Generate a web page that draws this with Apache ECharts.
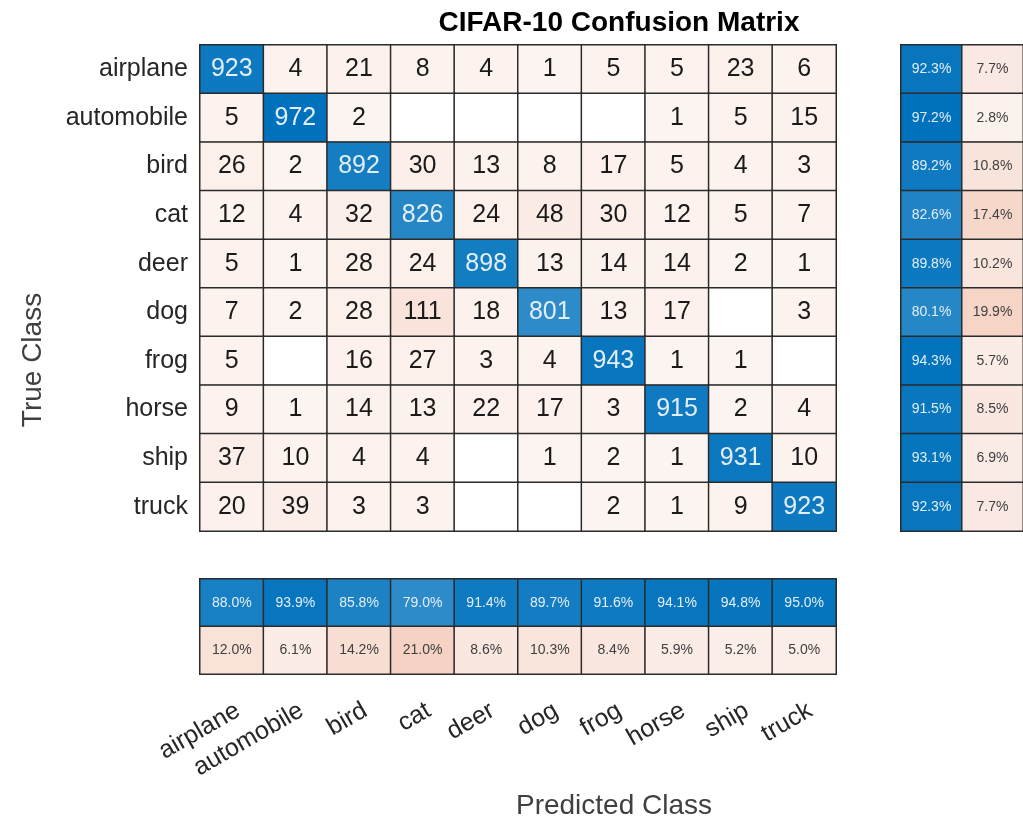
<!DOCTYPE html>
<html>
<head>
<meta charset="utf-8">
<script src="https://cdn.jsdelivr.net/npm/echarts@6/dist/echarts.min.js"></script>
<style>
  html, body { margin: 0; padding: 0; background: #fff; }
  #chart { width: 1023px; height: 820px; }
</style>
</head>
<body>
<div id="chart"></div>
<script>
var classes = ['airplane', 'automobile', 'bird', 'cat', 'deer', 'dog', 'frog', 'horse', 'ship', 'truck']

// rows = true class, columns = predicted class
var counts = [
  [923, 4, 21, 8, 4, 1, 5, 5, 23, 6],
  [5, 972, 2, 0, 0, 0, 0, 1, 5, 15],
  [26, 2, 892, 30, 13, 8, 17, 5, 4, 3],
  [12, 4, 32, 826, 24, 48, 30, 12, 5, 7],
  [5, 1, 28, 24, 898, 13, 14, 14, 2, 1],
  [7, 2, 28, 111, 18, 801, 13, 17, 0, 3],
  [5, 0, 16, 27, 3, 4, 943, 1, 1, 0],
  [9, 1, 14, 13, 22, 17, 3, 915, 2, 4],
  [37, 10, 4, 4, 0, 1, 2, 1, 931, 10],
  [20, 39, 3, 3, 0, 0, 2, 1, 9, 923]
]

// row summary (per true class)
var rowCorrect = [92.3, 97.2, 89.2, 82.6, 89.8, 80.1, 94.3, 91.5, 93.1, 92.3]
var rowWrong = [7.7, 2.8, 10.8, 17.4, 10.2, 19.9, 5.7, 8.5, 6.9, 7.7]

// column summary (per predicted class)
var colCorrect = [88.0, 93.9, 85.8, 79.0, 91.4, 89.7, 91.6, 94.1, 94.8, 95.0]
var colWrong = [12.0, 6.1, 14.2, 21.0, 8.6, 10.3, 8.4, 5.9, 5.2, 5.0]

var FONT = '"Liberation Sans", Arial, Helvetica, sans-serif'
var BLUE = [0, 114, 189]
var RED = [217, 83, 25]
var BORDER = '#2b2b2b'

function tint (base, a) {
  a = Math.max(0, Math.min(1, a))
  var c = base.map(function (v) { return Math.round(255 - (255 - v) * a) })
  return 'rgb(' + c.join(',') + ')'
}

var maxCount = Math.max.apply(null, counts.map(function (r) { return Math.max.apply(null, r) }))

var mainData = []
counts.forEach(function (row, i) {
  row.forEach(function (v, j) {
    var diag = i === j
    var color = '#ffffff'
    if (v > 0) color = diag ? tint(BLUE, v / maxCount) : tint(RED, 0.065 + 0.85 * v / maxCount)
    mainData.push({
      value: [j, i, v],
      itemStyle: { color: color },
      label: { color: diag ? '#e3eef8' : '#1a1a1a' }
    })
  })
})

var rowData = []
classes.forEach(function (c, i) {
  rowData.push({ value: [0, i, rowCorrect[i]], itemStyle: { color: tint(BLUE, rowCorrect[i] / 100 + 0.05) }, label: { color: '#e3eef8' } })
  rowData.push({ value: [1, i, rowWrong[i]], itemStyle: { color: tint(RED, 0.05 + rowWrong[i] / 100) }, label: { color: '#404040' } })
})

var colData = []
classes.forEach(function (c, j) {
  colData.push({ value: [j, 0, colCorrect[j]], itemStyle: { color: tint(BLUE, colCorrect[j] / 100 + 0.03) }, label: { color: '#e3eef8' } })
  colData.push({ value: [j, 1, colWrong[j]], itemStyle: { color: tint(RED, 0.05 + colWrong[j] / 100) }, label: { color: '#404040' } })
})

var hidden = {
  axisLine: { show: false },
  axisTick: { show: false },
  splitLine: { show: false }
}

var chart = echarts.init(document.getElementById('chart'))
chart.setOption({
  animation: false,
  textStyle: { fontFamily: FONT },
  title: {
    text: 'CIFAR-10 Confusion Matrix',
    left: 614,
    top: 4,
    textAlign: 'center',
    textStyle: { fontFamily: FONT, fontSize: 28, fontWeight: 'bold', color: '#000' }
  },
  graphic: [
    {
      type: 'text',
      x: 33, y: 360, rotation: Math.PI / 2,
      style: { text: 'True Class', font: '28px ' + FONT, fill: '#404040', align: 'center', verticalAlign: 'middle' }
    },
    {
      type: 'text',
      x: 614, y: 806,
      style: { text: 'Predicted Class', font: '28px ' + FONT, fill: '#404040', align: 'center', verticalAlign: 'middle' }
    }
  ],
  grid: [
    { left: 200, top: 45, width: 636, height: 486 },
    { left: 901, top: 45, width: 127, height: 486 },
    { left: 200, top: 579, width: 636, height: 95 }
  ],
  xAxis: [
    Object.assign({ gridIndex: 0, type: 'category', data: classes, axisLabel: { show: false } }, hidden),
    Object.assign({ gridIndex: 1, type: 'category', data: ['c', 'w'], axisLabel: { show: false } }, hidden),
    Object.assign({
      gridIndex: 2, type: 'category', data: classes,
      axisLabel: { rotate: 30, interval: 0, margin: 24, fontSize: 25, color: '#262626', verticalAlign: 'top' }
    }, hidden)
  ],
  yAxis: [
    Object.assign({
      gridIndex: 0, type: 'category', data: classes, inverse: true,
      axisLabel: { fontSize: 25, color: '#262626', margin: 12 }
    }, hidden),
    Object.assign({ gridIndex: 1, type: 'category', data: classes, inverse: true, axisLabel: { show: false } }, hidden),
    Object.assign({ gridIndex: 2, type: 'category', data: ['c', 'w'], inverse: true, axisLabel: { show: false } }, hidden)
  ],
  series: [
    {
      type: 'heatmap', xAxisIndex: 0, yAxisIndex: 0,
      data: mainData,
      itemStyle: { borderColor: BORDER, borderWidth: 1.5 },
      label: {
        show: true, fontSize: 25,
        formatter: function (p) { return p.value[2] > 0 ? String(p.value[2]) : '' }
      },
      emphasis: { disabled: true }
    },
    {
      type: 'heatmap', xAxisIndex: 1, yAxisIndex: 1,
      data: rowData,
      itemStyle: { borderColor: BORDER, borderWidth: 1.5 },
      label: { show: true, fontSize: 14, formatter: function (p) { return p.value[2].toFixed(1) + '%' } },
      emphasis: { disabled: true }
    },
    {
      type: 'heatmap', xAxisIndex: 2, yAxisIndex: 2,
      data: colData,
      itemStyle: { borderColor: BORDER, borderWidth: 1.5 },
      label: { show: true, fontSize: 14, formatter: function (p) { return p.value[2].toFixed(1) + '%' } },
      emphasis: { disabled: true }
    }
  ]
})
</script>
</body>
</html>
